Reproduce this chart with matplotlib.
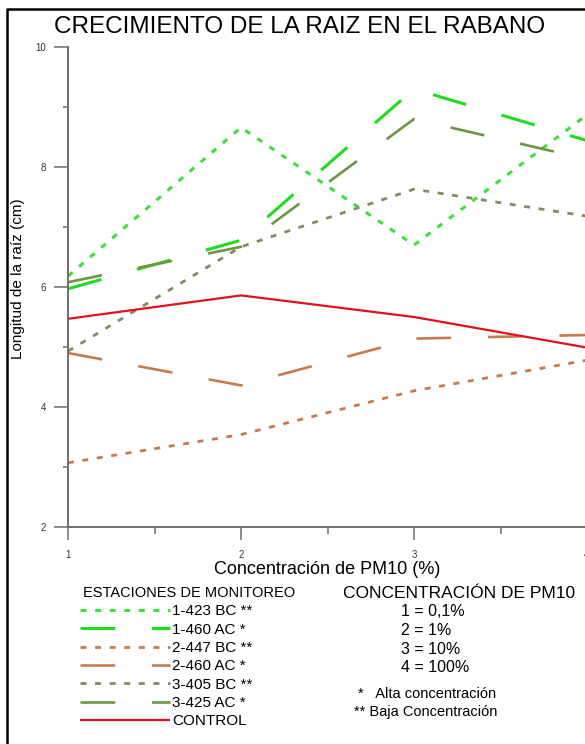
import matplotlib
matplotlib.use("Agg")
import matplotlib.pyplot as plt
from matplotlib.lines import Line2D

plt.rcParams['font.family'] = ['Liberation Sans', 'DejaVu Sans']
plt.rcParams['lines.scale_dashes'] = False

# concentration level (1 = 0,1%, 2 = 1%, 3 = 10%, 4 = 100%)
conc = [1, 2, 3, 4]

# root length (cm) per monitoring station
st_1423_bc = [6.18, 8.66, 6.70, 8.87]
st_1460_ac = [5.97, 6.78, 9.30, 8.44]
st_2447_bc = [3.07, 3.54, 4.27, 4.78]
st_2460_ac = [4.90, 4.36, 5.14, 5.20]
st_3405_bc = [4.93, 6.67, 7.63, 7.18]
st_3425_ac = [6.08, 6.67, 8.80, 8.13]
control = [5.47, 5.86, 5.50, 4.99]

station_labels = ['1-423 BC **', '1-460 AC *', '2-447 BC **', '2-460 AC *',
                  '3-405 BC **', '3-425 AC *', 'CONTROL']

conc_labels = ['1 = 0,1%', '2 = 1%', '3 = 10%', '4 = 100%']

W, H = 585, 744
DPI = 100


def fx(x):
    return x / W


def fy(y):
    return 1 - y / H


dotted = (0, (4.3, 6.2))
longdash = (0, (25, 26.5))

styles = [
    dict(color='#3ddf3d', ls=dotted, lw=2.2),
    dict(color='#1edc1e', ls=longdash, lw=2.2),
    dict(color='#c47a4c', ls=dotted, lw=2.0),
    dict(color='#c47c4e', ls=longdash, lw=1.9),
    dict(color='#7f8c68', ls=dotted, lw=2.0),
    dict(color='#6e9446', ls=longdash, lw=1.9),
    dict(color='#e0101c', ls='-', lw=1.6),
]
series = [st_1423_bc, st_1460_ac, st_2447_bc, st_2460_ac,
          st_3405_bc, st_3425_ac, control]

fig = plt.figure(figsize=(W / DPI, H / DPI), dpi=DPI)
ax = fig.add_axes([fx(68), fy(527), 519 / W, 480 / H])

handles = []
for vals, st, lab in zip(series, styles, station_labels):
    h, = ax.plot(conc, vals, label=lab, solid_capstyle='butt',
                 dash_capstyle='butt', **st)
    handles.append(h)

ax.set_xlim(1, 4)
ax.set_ylim(2, 10)
ax.set_xticks([1, 2, 3, 4])
ax.set_xticks([1.5, 2.5, 3.5], minor=True)
ax.set_yticks([2, 4, 6, 8, 10])
ax.set_yticks([3, 5, 7, 9], minor=True)

axis_grey = '#6e6e6e'
for side in ['top', 'right']:
    ax.spines[side].set_visible(False)
for side in ['left', 'bottom']:
    ax.spines[side].set_color(axis_grey)
    ax.spines[side].set_linewidth(1.4)
ax.tick_params(axis='x', which='major', length=9.5, width=1.1, color=axis_grey,
               labelsize=7, pad=7, labelcolor='#333333')
ax.tick_params(axis='x', which='minor', length=5, width=1.1, color=axis_grey)
ax.tick_params(axis='y', which='major', length=10, width=1.1, color=axis_grey,
               labelsize=7, pad=6, labelcolor='#333333')
ax.tick_params(axis='y', which='minor', length=3.8, width=1.1, color=axis_grey)

fig.text(fx(300), fy(27), 'CRECIMIENTO DE LA RAIZ EN EL RABANO',
         ha='center', va='center', fontsize=17.5)
fig.text(fx(18), fy(279), 'Longitud de la raíz (cm)', rotation=90,
         ha='center', va='center', fontsize=11)
fig.text(fx(327), fy(570), 'Concentración de PM10 (%)',
         ha='center', va='center', fontsize=13)

# outer frame (left and top edges)
fig.add_artist(Line2D([fx(7), fx(7), fx(600)], [fy(760), fy(9.3), fy(9.3)],
                      color='black', lw=1.8, transform=fig.transFigure))

leg = fig.legend(handles=handles, loc='upper left',
                 bbox_to_anchor=(fx(80), fy(586)), frameon=False,
                 title='ESTACIONES DE MONITOREO', title_fontsize=10.5,
                 fontsize=11, handlelength=5.9, handletextpad=0.12,
                 labelspacing=0.285, borderpad=0, borderaxespad=0,
                 alignment='left')
leg.get_title().set_position((3, 0))

fig.text(fx(343), fy(594), 'CONCENTRACIÓN DE PM10', ha='left', va='center',
         fontsize=12.5)
for i, t in enumerate(conc_labels):
    fig.text(fx(401), fy(612 + i * 18.6), t, ha='left', va='center',
             fontsize=11.5)
fig.text(fx(358), fy(694), '*   Alta concentración', ha='left', va='center',
         fontsize=10.5)
fig.text(fx(354), fy(712), '** Baja Concentración', ha='left', va='center',
         fontsize=10.5)

fig.savefig('out.png', dpi=DPI)
